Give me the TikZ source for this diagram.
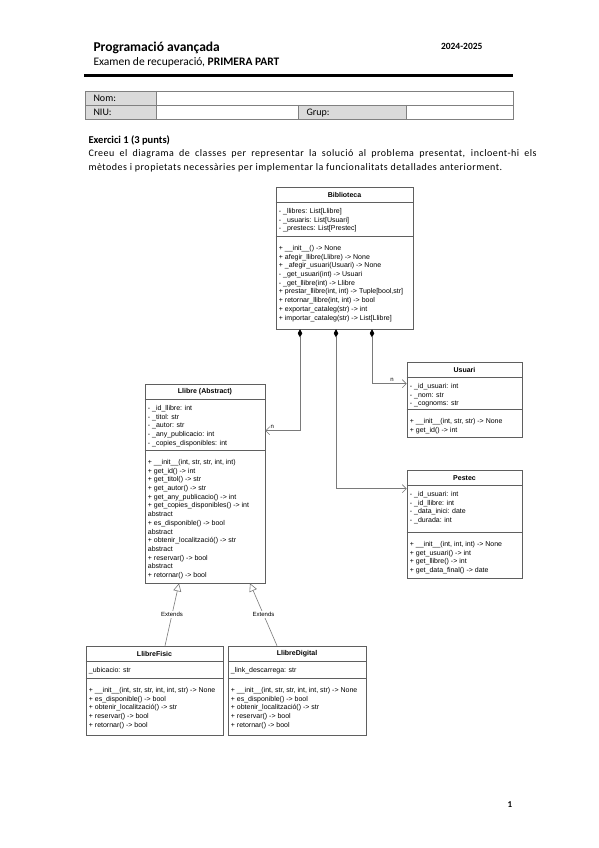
\documentclass[tikz,border=0pt]{standalone}
\usepackage{fontspec}
\setmainfont{Carlito}
\newfontfamily\umlfont{Liberation Sans}
\usetikzlibrary{arrows.meta,calc}
\definecolor{boxline}{HTML}{5F5F5F}
\definecolor{linkline}{HTML}{7A7A7A}
\definecolor{cellgray}{HTML}{DADADA}
\definecolor{tableline}{HTML}{808080}

% one UML class: name, x1, y1, x2, y2, separator offset, title, attributes, methods
\newcommand{\umlclass}[9]{%
  \node[classbox,minimum width={#4-#2},minimum height={#5-#3}] (#1) at ({(#2+#4)/2},{(#3+#5)/2}) {};
  \draw[classrule] ($(#1.north west)+(0,16)$) -- ($(#1.north east)+(0,16)$);
  \draw[classrule] ($(#1.north west)+(0,#6)$) -- ($(#1.north east)+(0,#6)$);
  \node[classname] (#1-name) at ($(#1.north)+(0,8)$) {#7};
  \node[members] (#1-attrs) at ($(#1.north west)+(3,21.5)$) {#8};
  \node[members] (#1-ops) at ($(#1.north west)+(3,#6+8.5)$) {#9};
}

\begin{document}
\begin{tikzpicture}[x=1pt,y=-1pt,
    classbox/.style={draw=boxline,line width=0.6pt,fill=white,inner sep=0pt},
    classrule/.style={draw=boxline,line width=0.6pt},
    classname/.style={font=\umlfont\fontsize{7}{8}\selectfont\bfseries,inner sep=0pt},
    members/.style={anchor=north west,inner sep=0pt,align=left,
                    font=\umlfont\fontsize{7}{8.7}\selectfont},
    assoc/.style={draw=linkline,line width=0.6pt,
                  {Diamond[length=8pt,width=4.5pt,color=black]}-{Straight Barb[length=4pt,width=8pt]}},
    extends/.style={draw=linkline,line width=0.6pt,
                    -{Triangle[open,length=8pt,width=8pt,fill=white]}},
    extlabel/.style={font=\umlfont\fontsize{6}{7}\selectfont,fill=white,inner sep=1pt},
    mult/.style={font=\umlfont\fontsize{6}{7}\selectfont,inner sep=1.5pt},
    cell/.style={draw=tableline,line width=0.8pt},
    celltext/.style={anchor=base west,font=\fontsize{10}{12}\selectfont}]
  \useasboundingbox (0,0) rectangle (599,848);
  \fill[white] (0,0) rectangle (599,848);

  % page header
  \node[anchor=base west,font=\fontsize{13.5}{16}\selectfont\bfseries] (title) at (90,52) {Programació avançada};
  \node[anchor=base east,font=\fontsize{9.5}{11}\selectfont\bfseries] (year) at (486,50) {2024-2025};
  \node[anchor=base west,font=\fontsize{11.5}{14}\selectfont] (subtitle) at (90,66) {Examen de recuperació, \textbf{PRIMERA PART}};
  \draw[line width=2.2pt] (84,75.5) -- (513,75.5);

  % student data
  \fill[cellgray] (85,91) rectangle (156,119);
  \fill[cellgray] (298,105) rectangle (406,119);
  \draw[cell] (85,91) rectangle (513,119);
  \draw[cell] (85,105) -- (513,105);
  \draw[cell] (156,91) -- (156,119);
  \draw[cell] (298,105) -- (298,119);
  \draw[cell] (406,105) -- (406,119);
  \node[celltext] (nom) at (90,102) {Nom:};
  \node[celltext] (niu) at (90,116) {NIU:};
  \node[celltext] (grup) at (303,116) {Grup:};

  % statement
  \node[anchor=base west,font=\fontsize{10.5}{12}\selectfont\bfseries] (ex1) at (85,143) {Exercici 1 (3 punts)};
  \node[anchor=base west,font=\fontsize{10}{12}\selectfont\addfontfeature{LetterSpace=5}] (task1) at (85,157)
    {\makebox[448pt][s]{Creeu el diagrama de classes per representar la solució al problema presentat, incloent-hi els}};
  \node[anchor=base west,font=\fontsize{10}{12}\selectfont\addfontfeature{LetterSpace=5}] (task2) at (85,170)
    {mètodes i propietats necessàries per implementar la funcionalitats detallades anteriorment.};

  % classes
  \umlclass{bib}{276}{187}{413}{329}{50}{Biblioteca}
    {- \_llibres: List[Llibre]\\- \_usuaris: List[Usuari]\\- \_prestecs: List[Prestec]}
    {+ \_\_init\_\_() -> None\\+ afegir\_llibre(Llibre) -> None\\+ \_afegir\_usuari(Usuari) -> None\\
     - \_get\_usuari(int) -> Usuari\\- \_get\_llibre(int) -> Llibre\\+ prestar\_llibre(int, int) -> Tuple[bool,str]\\
     + retornar\_llibre(int, int) -> bool\\+ exportar\_cataleg(str) -> int\\+ importar\_cataleg(str) -> List[Llibre]}
  \umlclass{llibre}{145}{384}{265}{583}{67}{Llibre (Abstract)}
    {- \_id\_llibre: int\\- \_titol: str\\- \_autor: str\\- \_any\_publicacio: int\\- \_copies\_disponibles: int}
    {+ \_\_init\_\_(int, str, str, int, int)\\+ get\_id() -> int\\+ get\_titol() -> str\\+ get\_autor() -> str\\
     + get\_any\_publicacio() -> int\\+ get\_copies\_disponibles() -> int\\abstract\\+ es\_disponible() -> bool\\
     abstract\\+ obtenir\_localització() -> str\\abstract\\+ reservar() -> bool\\abstract\\+ retornar() -> bool}
  \umlclass{usuari}{407}{362}{522}{437}{48}{Usuari}
    {- \_id\_usuari: int\\- \_nom: str\\- \_cognoms: str}
    {+ \_\_init\_\_(int, str, str) -> None\\+ get\_id() -> int}
  \umlclass{prestec}{407}{470}{522}{578}{63}{Pestec}
    {- \_id\_usuari: int\\- \_id\_llibre: int\\- \_data\_inici: date\\- \_durada: int}
    {+ \_\_init\_\_(int, int, int) -> None\\+ get\_usuari() -> int\\+ get\_llibre() -> int\\+ get\_data\_final() -> date}
  \umlclass{fisic}{86}{646}{223}{735}{33}{LlibreFisic}
    {\_ubicacio: str}
    {+ \_\_init\_\_(int, str, str, int, int, str) -> None\\+ es\_disponible() -> bool\\
     + obtenir\_localització() -> str\\+ reservar() -> bool\\+ retornar() -> bool}
  \umlclass{digital}{228}{646}{366}{735}{33}{LlibreDigital}
    {\_link\_descarrega: str}
    {+ \_\_init\_\_(int, str, str, int, int, str) -> None\\+ es\_disponible() -> bool\\
     + obtenir\_localització() -> str\\+ reservar() -> bool\\+ retornar() -> bool}

  % associations
  \draw[assoc] ($(bib.south)+(-44.5,0)$) |- ($(llibre.north east)+(0,47)$)
    node[mult,pos=0.9,above] (n-llibre) {n};
  \draw[assoc] ($(bib.south)+(-8.5,0)$) |- ($(prestec.north west)+(0,19)$);
  \draw[assoc] ($(bib.south)+(27.5,0)$) |- ($(usuari.north west)+(0,22)$)
    node[mult,pos=0.79,above] (n-usuari) {n};

  % inheritance
  \draw[extends] ($(fisic.north)+(10.5,0)$) -- node[extlabel] (ext-fisic) {Extends} ($(llibre.south)+(-26,0)$);
  \draw[extends] ($(digital.north)+(-20,0)$) -- node[extlabel] (ext-digital) {Extends} ($(llibre.south)+(45,0)$);

  % page number
  \node[font=\fontsize{9}{11}\selectfont\bfseries] (page) at (510,805) {1};
\end{tikzpicture}
\end{document}
